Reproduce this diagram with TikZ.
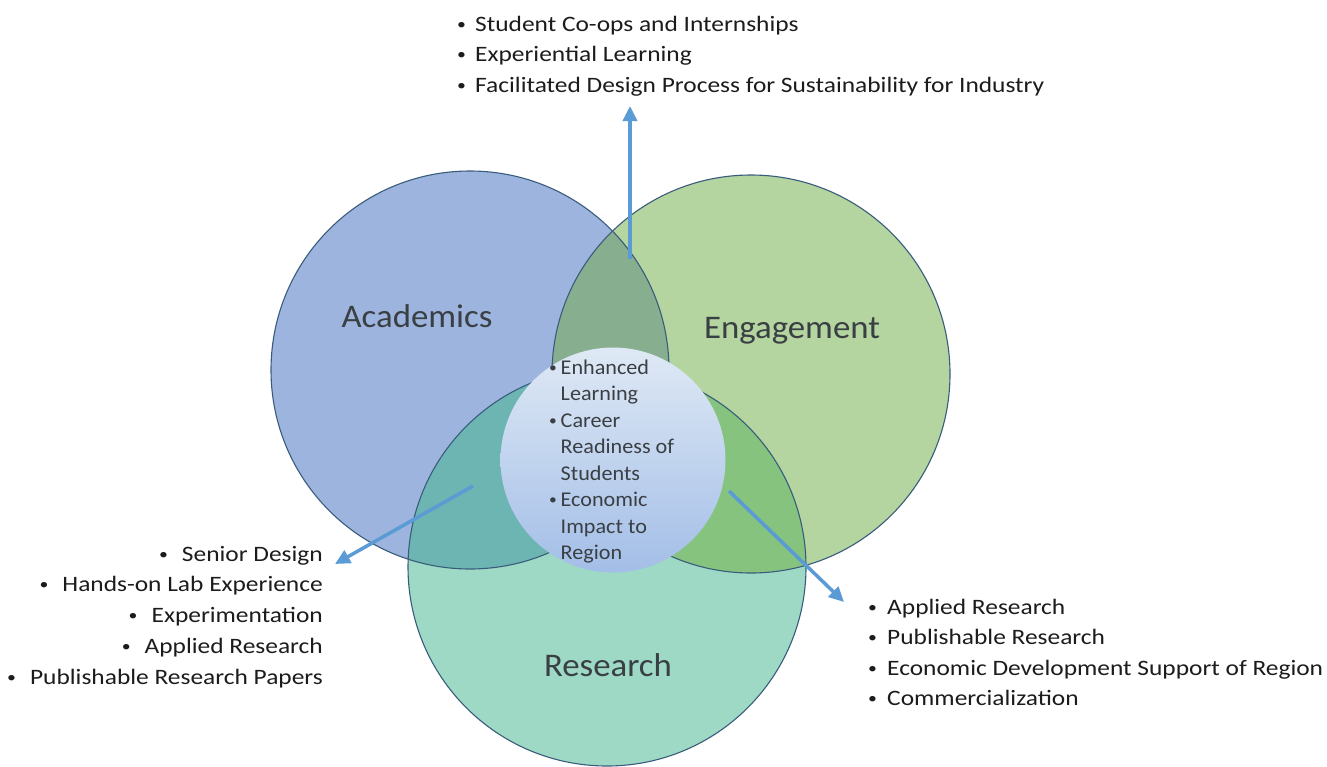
\documentclass[tikz,border=0pt]{standalone}
\usepackage{fontspec}
\usepackage{graphicx}
\setmainfont{Carlito}
\newfontfamily\listfont[FakeStretch=1.155]{Carlito}
\newfontfamily\labelfont[FakeStretch=1.055]{Carlito}
\newcommand\smbul{\raisebox{1.6pt}{\scalebox{0.7}{•}}}
\usetikzlibrary{arrows.meta}
\definecolor{acadfill}{HTML}{9DB5DE}
\definecolor{engfill}{HTML}{B4D4A0}
\definecolor{resfill}{HTML}{9ED9C5}
\definecolor{aefill}{HTML}{87AE8F}
\definecolor{arfill}{HTML}{6CB5B2}
\definecolor{erfill}{HTML}{85C37F}
\definecolor{ringline}{HTML}{3A5C7C}
\definecolor{arrowblue}{HTML}{5B9BD5}
\definecolor{coretop}{HTML}{DFE9F5}
\definecolor{corebot}{HTML}{A3BEE7}
\definecolor{labelgray}{HTML}{3A3F44}
\definecolor{listblack}{HTML}{1C1C1C}
\begin{document}
\begin{tikzpicture}[x=1pt,y=-1pt,
  ringedge/.style={draw=ringline, line width=1.1pt},
  biglabel/.style={font=\labelfont\fontsize{33}{40}\selectfont, text=labelgray, inner sep=0pt, anchor=base},
  listitem/.style={font=\listfont\fontsize{22}{26}\selectfont, text=listblack, inner sep=0pt},
  coreitem/.style={font=\labelfont\fontsize{21}{25}\selectfont, text=labelgray, inner sep=0pt, anchor=base west},
  bluearrow/.style={draw=arrowblue, line width=3.5pt, -{Triangle[length=15pt,width=14pt]}}
]
\fill[white] (0,0) rectangle (1327,766);
\useasboundingbox (0,0) rectangle (1327,766);

\coordinate (A) at (470,370);
\coordinate (E) at (751,374);
\coordinate (R) at (607,567);

% base fills
\fill[acadfill] (A) circle[radius=199pt];
\fill[engfill] (E) circle[radius=199pt];
\fill[resfill] (R) circle[radius=199pt];
% pairwise overlaps
\begin{scope}
  \clip (A) circle[radius=199pt];
  \fill[aefill] (E) circle[radius=199pt];
  \fill[arfill] (R) circle[radius=199pt];
\end{scope}
\begin{scope}
  \clip (E) circle[radius=199pt];
  \fill[erfill] (R) circle[radius=199pt];
\end{scope}
% outlines
\draw[ringedge] (A) circle[radius=199pt];
\draw[ringedge] (E) circle[radius=199pt];
\draw[ringedge] (R) circle[radius=199pt];

% core circle
\node[circle, minimum size=225pt, inner sep=0pt, top color=coretop, bottom color=corebot] (core) at (613,460) {};

% circle labels
\node[biglabel] (acad) at (417,327) {Academics};
\node[biglabel] (eng) at (792,338) {Engagement};
\node[biglabel] (res) at (608,676) {Research};

% core text
\node[coreitem] (c1) at (549,374) {\makebox[11.5pt][l]{\smbul}Enhanced};
\node[coreitem] (c2) at (549,400.5) {\hspace*{11.5pt}Learning};
\node[coreitem] (c3) at (549,427) {\makebox[11.5pt][l]{\smbul}Career};
\node[coreitem] (c4) at (549,453.5) {\hspace*{11.5pt}Readiness of};
\node[coreitem] (c5) at (549,480) {\hspace*{11.5pt}Students};
\node[coreitem] (c6) at (549,506.5) {\makebox[11.5pt][l]{\smbul}Economic};
\node[coreitem] (c7) at (549,533) {\hspace*{11.5pt}Impact to};
\node[coreitem] (c8) at (549,559.5) {\hspace*{11.5pt}Region};

% top list
\node[listitem, anchor=base west] (t1) at (457,31) {\makebox[18pt][l]{\smbul}Student Co-ops and Internships};
\node[listitem, anchor=base west] (t2) at (457,61.5) {\makebox[18pt][l]{\smbul}Experiential Learning};
\node[listitem, anchor=base west] (t3) at (457,92) {\makebox[18pt][l]{\smbul}Facilitated Design Process for Sustainability for Industry};

% left list
\node[listitem, anchor=base east] (l1) at (323,561) {\smbul\hspace{14pt}Senior Design};
\node[listitem, anchor=base east] (l2) at (323,591.5) {\smbul\hspace{14pt}Hands-on Lab Experience};
\node[listitem, anchor=base east] (l3) at (323,622) {\smbul\hspace{14pt}Experimentation};
\node[listitem, anchor=base east] (l4) at (323,653) {\smbul\hspace{14pt}Applied Research};
\node[listitem, anchor=base east] (l5) at (323,684) {\smbul\hspace{14pt}Publishable Research Papers};

% right list
\node[listitem, anchor=base west] (r1) at (868,614) {\makebox[19pt][l]{\smbul}Applied Research};
\node[listitem, anchor=base west] (r2) at (868,644.5) {\makebox[19pt][l]{\smbul}Publishable Research};
\node[listitem, anchor=base west] (r3) at (868,675) {\makebox[19pt][l]{\smbul}Economic Development Support of Region};
\node[listitem, anchor=base west] (r4) at (868,705) {\makebox[19pt][l]{\smbul}Commercialization};

% arrows
\coordinate (upstart) at (630,259);
\coordinate (uptip) at (630,106);
\coordinate (lstart) at (473,486);
\coordinate (ltip) at (335,564);
\coordinate (rstart) at (729,491);
\coordinate (rtip) at (844,602);
\draw[bluearrow] (upstart) -- (uptip);
\draw[bluearrow] (lstart) -- (ltip);
\draw[bluearrow] (rstart) -- (rtip);
\end{tikzpicture}
\end{document}
